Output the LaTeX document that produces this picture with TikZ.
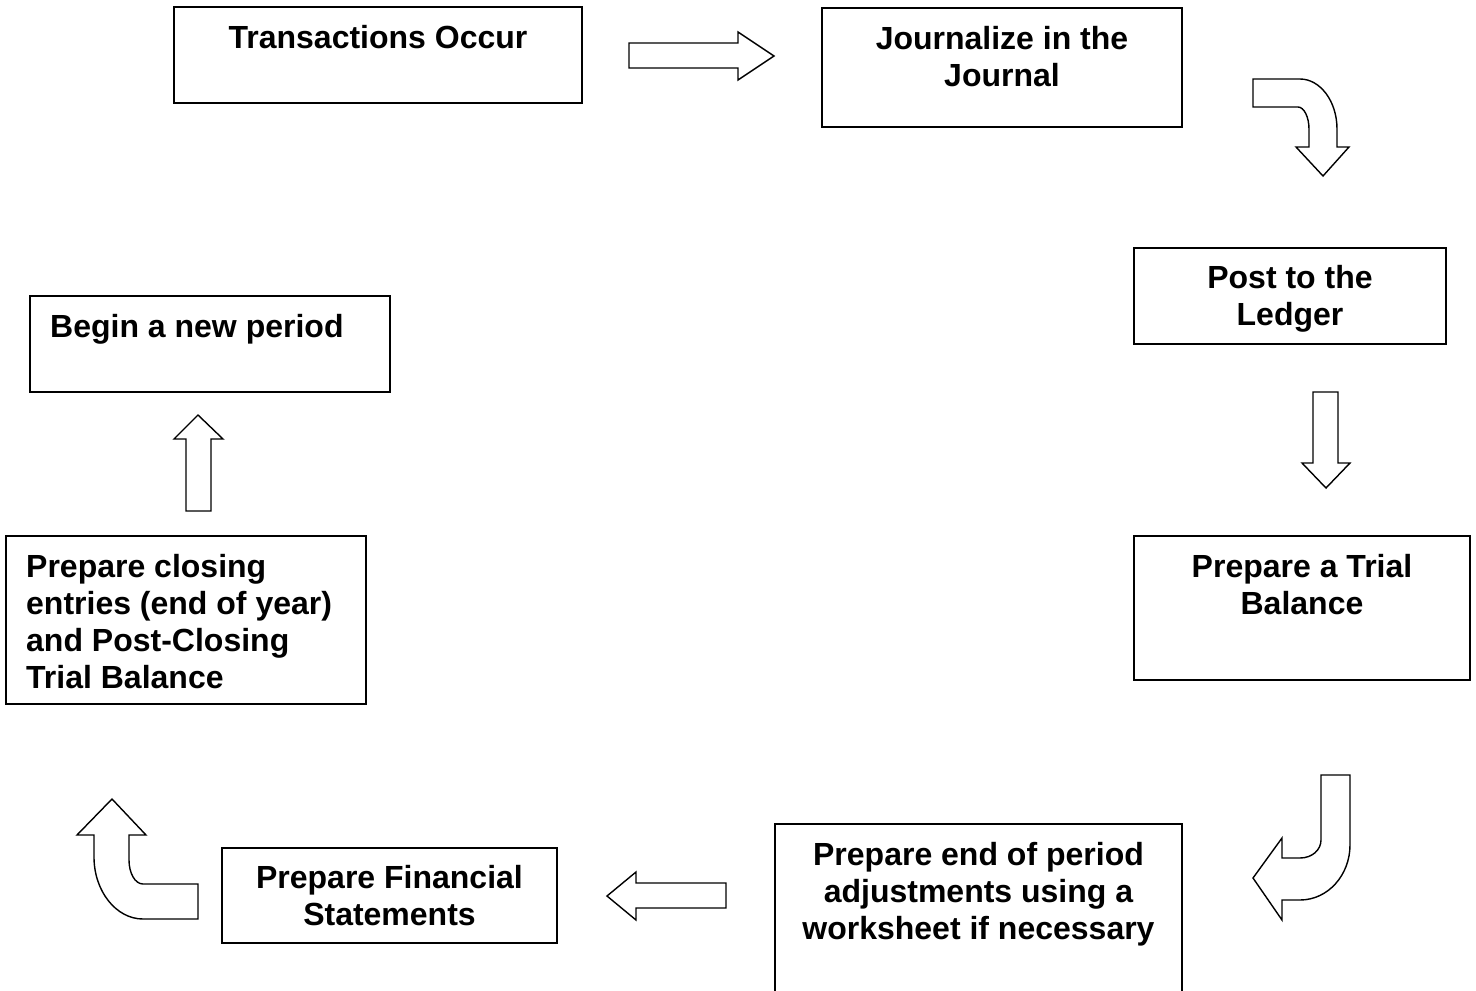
\documentclass[tikz,border=0pt]{standalone}
\usepackage{fontspec}
\setmainfont{Liberation Sans}
\usepackage{tikz}
\usetikzlibrary{positioning}

\begin{document}
\begin{tikzpicture}[x=1pt, y=-1pt,
        box/.style={draw, line width=\boxthick, inner sep=0pt},
        steptext/.style={inner sep=0pt, font=\bfseries\fontsize{32}{37}\selectfont},
        blockarrow/.style={draw, line width=\arrowthick, line join=miter, fill=white}]

        \def\boxthick{2pt}
        \def\arrowthick{1.4pt}

        \clip (0, 0) rectangle (1476, 991);

        % boxes of the cycle
        \node[box, minimum width=408pt, minimum height=96pt] (occur) at (378, 55) {};
        \node[box, minimum width=360pt, minimum height=119pt] (journal) at (1002, 67.5) {};
        \node[box, minimum width=312pt, minimum height=96pt] (ledger) at (1290, 296) {};
        \node[box, minimum width=336pt, minimum height=144pt] (trial) at (1302, 608) {};
        \node[box, minimum width=407pt, minimum height=180pt] (adjust) at (978.5, 914) {};
        \node[box, minimum width=335pt, minimum height=95pt] (statements) at (389.5, 895.5) {};
        \node[box, minimum width=360pt, minimum height=168pt] (closing) at (186, 620) {};
        \node[box, minimum width=360pt, minimum height=96pt] (newperiod) at (210, 344) {};

        % texts
        \node[steptext, below=19pt of occur.north] (occurtext) {Transactions Occur};
        \node[steptext, align=center, below=19pt of journal.north] (journaltext) {Journalize in the\\Journal};
        \node[steptext, align=center, below=18pt of ledger.north] (ledgertext) {Post to the\\Ledger};
        \node[steptext, align=center, below=19pt of trial.north] (trialtext) {Prepare a Trial\\Balance};
        \node[steptext, align=center, below=19pt of adjust.north] (adjusttext) {Prepare end of period\\adjustments using a\\worksheet if necessary};
        \node[steptext, align=center, below=18pt of statements.north] (statementstext) {Prepare Financial\\Statements};
        \node[steptext, align=left, below right=19pt and 21pt of closing.north west] (closingtext) {Prepare closing\\entries (end of year)\\and Post-Closing\\Trial Balance};
        \node[steptext, below right=19pt and 21pt of newperiod.north west] (newperiodtext) {Begin a new period};

        % block arrows
        \draw[blockarrow] (629, 43) -- (738, 43) -- (738, 32) -- (774, 56) -- (738, 80) -- (738, 68) -- (629, 68) -- cycle;
        \draw[blockarrow] (1253, 79) -- (1300, 79) .. controls (1320, 79) and (1337, 101) .. (1337, 129) -- (1337, 147) -- (1349, 147) -- (1323, 176) -- (1296, 147) -- (1309, 147) -- (1309, 129) .. controls (1309, 117) and (1304, 107) .. (1298, 107) -- (1253, 107) -- cycle;
        \draw[blockarrow] (1313, 392) -- (1338, 392) -- (1338, 463) -- (1350, 463) -- (1326, 488) -- (1302, 463) -- (1313, 463) -- cycle;
        \draw[blockarrow] (1321, 775) -- (1350, 775) -- (1350, 845) .. controls (1350, 875) and (1328, 900) .. (1300, 900) -- (1282, 900) -- (1282, 920) -- (1253, 878) -- (1282, 838) -- (1282, 858) -- (1300, 858) .. controls (1312, 858) and (1321, 850) .. (1321, 840) -- cycle;
        \draw[blockarrow] (607, 896) -- (636, 872) -- (636, 883) -- (726, 883) -- (726, 908) -- (636, 908) -- (636, 920) -- cycle;
        \draw[blockarrow] (112, 799) -- (146, 835) -- (129, 835) -- (129, 860) .. controls (129, 873) and (135, 884) .. (143, 884) -- (198, 884) -- (198, 919) -- (143, 919) .. controls (116, 919) and (94, 891) .. (94, 857) -- (94, 835) -- (77, 835) -- cycle;
        \draw[blockarrow] (198, 415) -- (223, 439) -- (211, 439) -- (211, 511) -- (186, 511) -- (186, 439) -- (174, 439) -- cycle;

    \end{tikzpicture}
\end{document}
